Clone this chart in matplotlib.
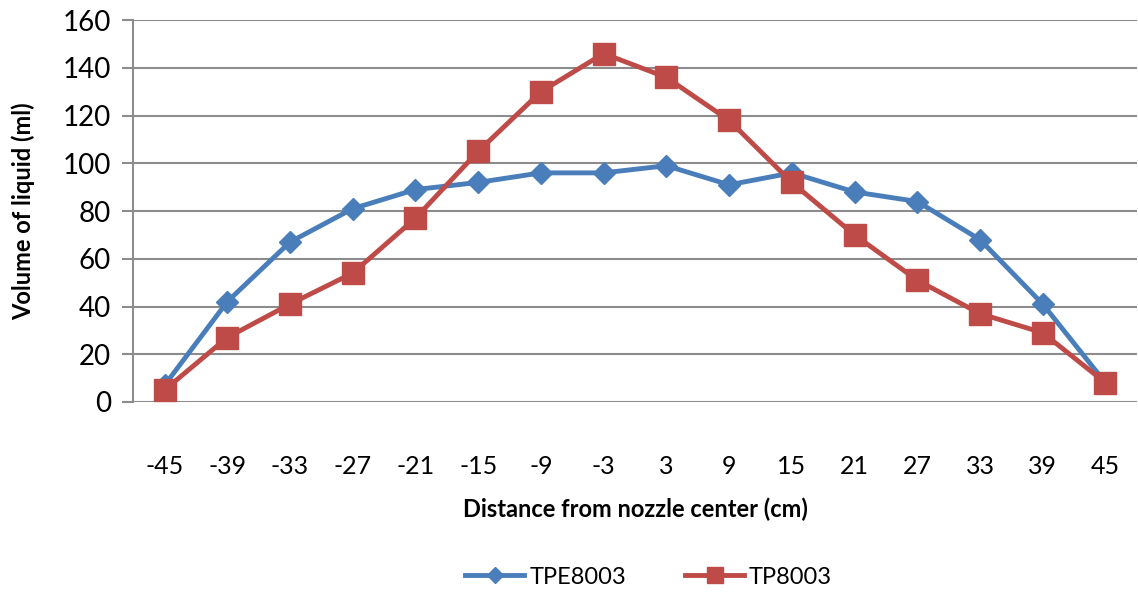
import matplotlib.pyplot as plt

distance = ["-45", "-39", "-33", "-27", "-21", "-15", "-9", "-3",
            "3", "9", "15", "21", "27", "33", "39", "45"]
tpe8003 = [7, 42, 67, 81, 89, 92, 96, 96, 99, 91, 96, 88, 84, 68, 41, 8]
tp8003 = [5, 27, 41, 54, 77, 105, 130, 146, 136, 118, 92, 70, 51, 37, 29, 8]

plt.rcParams["font.family"] = ["Lato", "DejaVu Sans"]

fig = plt.figure(figsize=(11.38, 5.92), dpi=100)
ax = fig.add_axes([0.117, 0.321, 0.882, 0.645])

x = list(range(len(distance)))
ax.plot(x, tpe8003, color="#4A7EBB", lw=3.5, marker="D", ms=11, label="TPE8003", zorder=3)
ax.plot(x, tp8003, color="#BE4B48", lw=3.5, marker="s", ms=16, label="TP8003", zorder=4)

ax.set_xlim(-0.5, len(distance) - 0.5)
ax.set_ylim(0, 160)
ax.set_yticks(range(0, 161, 20))
ax.set_xticks(x)
ax.set_xticklabels(distance)
ax.grid(axis="y", color="#8c8c8c", lw=1.5)
ax.set_axisbelow(True)
for s in ["top", "right", "bottom"]:
    ax.spines[s].set_visible(False)
ax.spines["left"].set_color("#8c8c8c")
ax.spines["left"].set_linewidth(1.5)
ax.tick_params(axis="y", length=8, width=1.5, color="#8c8c8c", labelsize=20, pad=8)
ax.tick_params(axis="x", length=0, labelsize=18, pad=38)

ax.set_xlabel("Distance from nozzle center (cm)", fontsize=17, fontweight="bold", labelpad=14)
ax.set_ylabel("Volume of liquid (ml)", fontsize=17, fontweight="bold", labelpad=20)

fig.legend(loc="center", bbox_to_anchor=(0.57, 0.025), ncol=2, frameon=False,
           fontsize=17, handlelength=2.5, columnspacing=2.5, handletextpad=0.2,
           markerscale=0.75)

plt.savefig("out.png", dpi=100)
